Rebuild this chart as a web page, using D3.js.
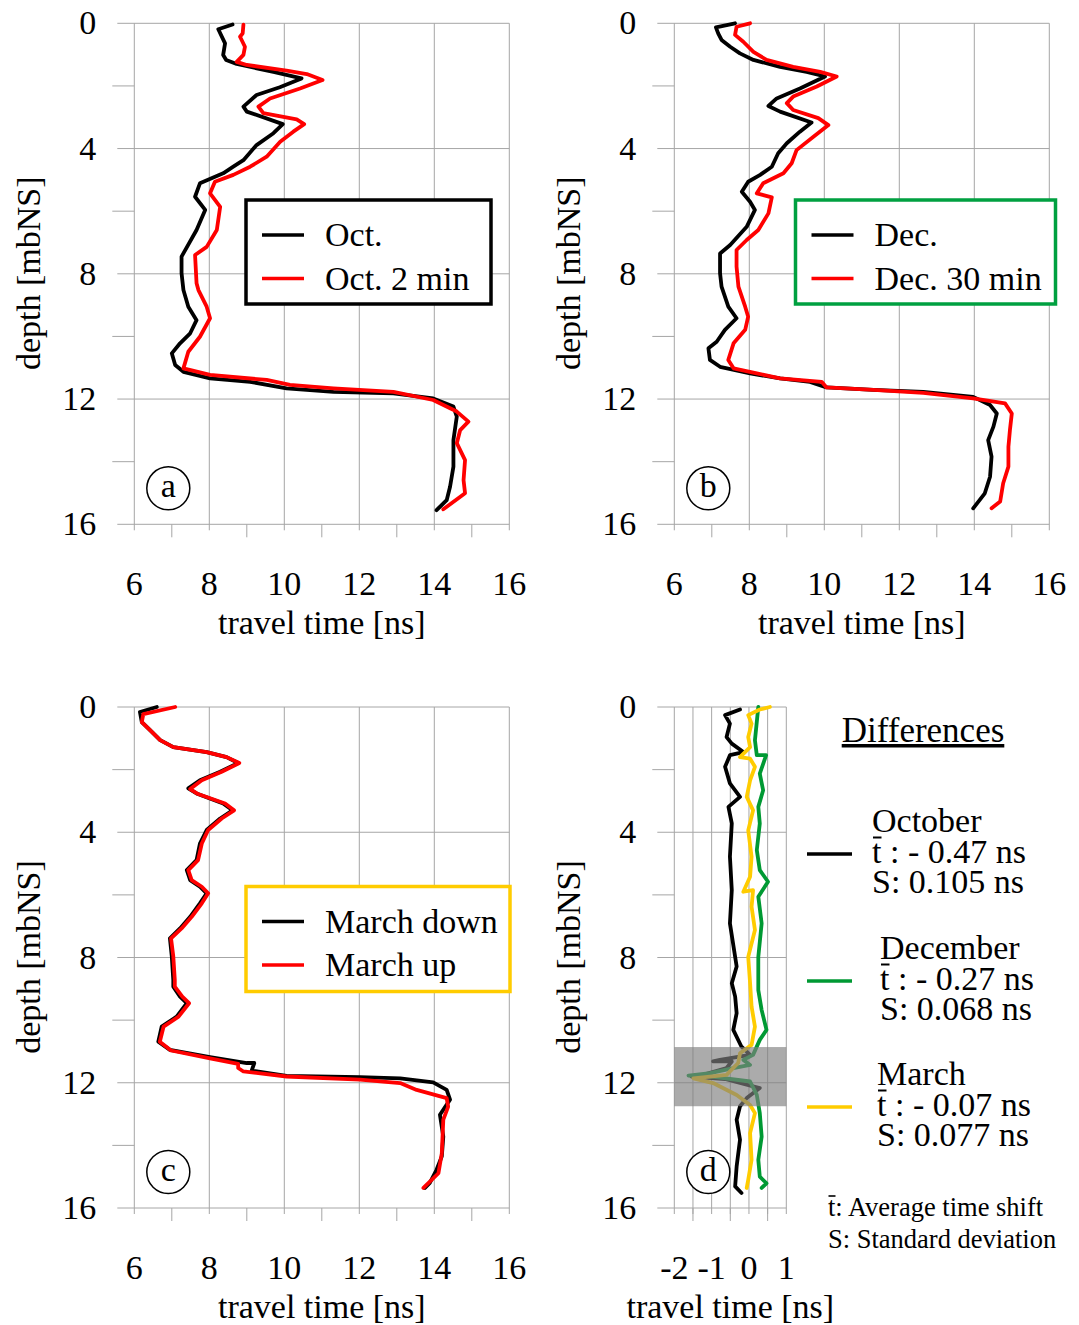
<!DOCTYPE html>
<html>
<head>
<meta charset="utf-8">
<script src="https://cdn.jsdelivr.net/npm/d3@7"></script>
<style>
  body { margin: 0; background: #fff; }
  text { font-family: "Liberation Serif", "Times New Roman", serif; fill: #000; }
</style>
</head>
<body>
<svg id="chart" width="1079" height="1325"></svg>
<script>
// data: [travel time ns, depth mbNS]
const octSeries = [[8.62,0.04],[8.24,0.19],[8.42,0.64],[8.37,1.01],[8.45,1.17],[8.73,1.30],[9.71,1.55],[10.46,1.76],[9.88,2.04],[9.26,2.29],[8.91,2.66],[9.0,2.82],[9.96,3.22],[9.71,3.51],[9.26,3.89],[8.91,4.37],[8.64,4.58],[8.37,4.79],[7.75,5.11],[7.62,5.54],[7.89,5.96],[7.66,6.60],[7.26,7.45],[7.26,7.98],[7.31,8.52],[7.44,9.05],[7.66,9.48],[7.49,9.90],[7.22,10.22],[7.0,10.54],[7.09,10.91],[7.31,11.13],[8.02,11.34],[9.09,11.45],[10.06,11.66],[11.31,11.77],[12.91,11.82],[13.97,11.98],[14.51,12.24],[14.60,12.56],[14.51,13.31],[14.51,14.16],[14.42,14.80],[14.33,15.23],[14.06,15.55]];
const oct2Series = [[8.91,0.04],[8.89,0.32],[8.82,0.43],[8.95,0.75],[8.91,1.01],[8.73,1.23],[9.0,1.33],[10.06,1.51],[10.60,1.62],[11.02,1.81],[10.42,2.08],[9.62,2.40],[9.31,2.66],[9.44,2.87],[10.33,3.07],[10.53,3.22],[10.24,3.46],[9.89,3.78],[9.53,4.26],[9.09,4.58],[8.64,4.84],[8.15,5.06],[8.02,5.43],[8.29,5.86],[8.20,6.60],[7.93,7.14],[7.62,7.40],[7.66,8.30],[7.71,8.52],[7.93,9.05],[8.02,9.42],[7.75,10.01],[7.44,10.49],[7.31,11.02],[8.02,11.23],[9.53,11.39],[10.15,11.55],[11.31,11.66],[12.91,11.77],[13.97,12.03],[14.60,12.40],[14.91,12.72],[14.69,12.99],[14.60,13.41],[14.82,13.95],[14.78,14.59],[14.82,15.01],[14.24,15.52]];
const decSeries = [[7.62,0],[7.11,0.13],[7.17,0.32],[7.26,0.53],[7.49,0.75],[7.75,0.96],[8.11,1.17],[8.82,1.39],[9.53,1.55],[10.02,1.70],[9.35,2.08],[8.73,2.40],[8.51,2.64],[8.82,2.82],[9.66,3.17],[9.35,3.46],[9.0,3.83],[8.77,4.15],[8.60,4.58],[8.29,4.84],[7.97,5.06],[7.80,5.38],[8.02,5.70],[8.15,5.96],[7.93,6.50],[7.49,7.08],[7.22,7.35],[7.22,7.98],[7.26,8.41],[7.44,9.05],[7.66,9.42],[7.35,9.79],[7.13,10.17],[6.91,10.38],[6.95,10.75],[7.22,10.97],[8.02,11.18],[8.82,11.34],[9.62,11.45],[10.06,11.63],[11.31,11.71],[12.64,11.77],[13.97,11.93],[14.42,12.19],[14.60,12.46],[14.51,12.88],[14.37,13.31],[14.46,13.84],[14.42,14.48],[14.28,15.01],[13.97,15.49]];
const dec30Series = [[8.02,0],[7.66,0.11],[7.62,0.37],[7.84,0.59],[8.11,0.91],[8.46,1.17],[9.17,1.39],[9.89,1.55],[10.33,1.70],[9.80,2.02],[9.17,2.34],[9.0,2.55],[9.17,2.77],[9.84,3.03],[10.11,3.25],[9.71,3.62],[9.26,4.05],[9.13,4.47],[8.91,4.79],[8.37,5.11],[8.20,5.43],[8.60,5.56],[8.51,6.07],[8.24,6.60],[7.93,6.92],[7.66,7.24],[7.66,7.77],[7.71,8.41],[7.89,9.05],[7.97,9.37],[7.89,9.79],[7.58,10.22],[7.44,10.75],[7.58,11.02],[8.20,11.18],[8.82,11.34],[9.93,11.45],[10.06,11.63],[11.31,11.71],[12.64,11.80],[13.97,11.98],[14.82,12.14],[15.0,12.46],[14.95,12.99],[14.91,13.52],[14.91,14.16],[14.77,14.69],[14.69,15.27],[14.46,15.49]];
const marDownSeries = [[6.60,0],[6.15,0.16],[6.20,0.48],[6.42,0.74],[6.69,1.06],[7.04,1.28],[7.93,1.44],[8.46,1.60],[8.77,1.79],[8.29,2.07],[7.75,2.34],[7.44,2.60],[7.66,2.76],[8.37,3.08],[8.62,3.30],[8.29,3.56],[7.93,3.93],[7.75,4.36],[7.66,4.89],[7.40,5.21],[7.49,5.53],[7.75,5.74],[7.93,5.95],[7.75,6.27],[7.49,6.70],[7.22,7.07],[6.95,7.39],[7.0,7.97],[7.04,8.72],[7.04,8.93],[7.22,9.25],[7.40,9.46],[7.13,9.89],[6.73,10.21],[6.64,10.69],[6.95,10.95],[8.02,11.18],[9.0,11.37],[9.20,11.37],[9.13,11.61],[10.06,11.78],[12.02,11.82],[13.09,11.86],[13.97,11.99],[14.33,12.23],[14.42,12.54],[14.15,13.02],[14.24,13.72],[14.20,14.35],[14.06,14.78],[13.88,15.20],[13.75,15.36]];
const marUpSeries = [[7.09,0],[6.24,0.23],[6.20,0.48],[6.42,0.74],[6.69,1.06],[7.04,1.28],[7.93,1.44],[8.46,1.60],[8.80,1.79],[8.33,2.07],[7.80,2.34],[7.49,2.62],[7.70,2.78],[8.42,3.08],[8.66,3.30],[8.33,3.56],[7.97,3.93],[7.80,4.36],[7.70,4.89],[7.44,5.21],[7.53,5.53],[7.80,5.74],[7.97,5.95],[7.80,6.27],[7.53,6.70],[7.26,7.07],[6.98,7.39],[7.04,7.97],[7.08,8.72],[7.08,8.93],[7.28,9.25],[7.46,9.46],[7.18,9.89],[6.78,10.21],[6.68,10.69],[6.98,10.97],[8.02,11.22],[8.77,11.40],[8.77,11.53],[8.91,11.64],[10.06,11.80],[12.02,11.90],[13.09,12.01],[13.53,12.23],[14.33,12.49],[14.37,12.76],[14.24,13.18],[14.20,14.25],[14.11,14.89],[13.71,15.36]];
const diffOctSeries = [[-0.24,0.08],[-0.64,0.26],[-0.51,0.53],[-0.60,0.96],[-0.46,1.17],[-0.15,1.44],[-0.51,1.54],[-0.64,1.91],[-0.51,2.44],[-0.24,2.87],[-0.55,3.19],[-0.46,3.72],[-0.51,4.78],[-0.46,5.85],[-0.51,6.91],[-0.33,8.29],[-0.46,8.82],[-0.37,9.25],[-0.33,9.78],[-0.42,10.31],[-0.20,10.85],[0.03,11.11],[-0.78,11.27],[-0.96,11.32],[-0.46,11.32],[-0.60,11.53],[-1.23,11.75],[-1.54,11.80],[-0.64,11.88],[0.29,12.17],[-0.06,12.49],[-0.24,12.75],[-0.33,13.18],[-0.24,13.82],[-0.33,14.67],[-0.37,15.31],[-0.20,15.52]];
const diffDecSeries = [[0.25,0],[0.16,1.06],[0.21,1.54],[0.46,1.54],[0.29,2.13],[0.38,2.66],[0.25,3.19],[0.29,3.72],[0.21,4.57],[0.29,5.21],[0.51,5.58],[0.25,6.06],[0.34,6.91],[0.25,7.98],[0.25,9.04],[0.34,9.68],[0.47,10.31],[0.29,10.63],[0.11,11.11],[-0.15,11.27],[0.03,11.43],[-0.42,11.53],[-1.04,11.69],[-1.62,11.77],[-1.04,11.80],[0.03,11.96],[0.21,12.39],[0.29,12.97],[0.34,13.72],[0.25,14.46],[0.29,15.0],[0.47,15.21],[0.34,15.36]];
const diffMarSeries = [[0.56,0],[0.29,0.08],[-0.02,0.26],[0.07,0.53],[-0.02,0.96],[0.03,1.28],[-0.24,1.60],[0.03,1.65],[0.16,1.91],[0.03,2.34],[-0.06,2.87],[0.11,3.30],[-0.02,3.94],[0.07,4.78],[0.03,5.42],[-0.15,5.90],[0.11,5.85],[0.07,6.38],[0.16,7.12],[-0.02,7.98],[0.03,8.82],[0.07,9.57],[0.16,10.21],[0.07,10.79],[-0.24,11.06],[-0.29,11.37],[-0.60,11.75],[-1.49,11.86],[-0.96,12.01],[-0.33,12.39],[0.03,12.71],[0.16,12.97],[0.03,13.61],[0.07,14.46],[-0.02,15.10],[-0.06,15.36]];

const depthTicks = [0, 4, 8, 12, 16];
const depthMinor = [2, 6, 10, 14];
const timeTicks = [6, 8, 10, 12, 14, 16];
const timeMinor = [7, 9, 11, 13, 15];
const diffTicks = [-2, -1, 0, 1];
const diffGrid = [-2, -1.5, -1, -0.5, 0, 0.5, 1];
const diffMinor = [-1.5, -0.5, 0.5];
const shadedDepth = [10.86, 12.75];

const svg = d3.select("#chart");
const gridColor = "#a6a6a6";

function drawPanel(p) {
  const x = d3.scaleLinear().domain(p.xDomain).range([p.left, p.left + p.width]);
  const y = d3.scaleLinear().domain([0, 16]).range([p.top, p.top + 501]);
  const g = svg.append("g");

  // vertical grid + ticks below
  g.selectAll(".vg").data(p.xGrid).join("line")
    .attr("x1", d => x(d)).attr("x2", d => x(d))
    .attr("y1", p.top).attr("y2", p.top + 501 + 6)
    .attr("stroke", gridColor).attr("stroke-width", 1);
  g.selectAll(".vm").data(p.xMinor).join("line")
    .attr("x1", d => x(d)).attr("x2", d => x(d))
    .attr("y1", p.top + 501).attr("y2", p.top + 501 + 13)
    .attr("stroke", gridColor).attr("stroke-width", 1);
  // horizontal grid + ticks left
  g.selectAll(".hg").data(depthTicks).join("line")
    .attr("x1", p.left - 17).attr("x2", p.left + p.width)
    .attr("y1", d => y(d)).attr("y2", d => y(d))
    .attr("stroke", gridColor).attr("stroke-width", 1);
  g.selectAll(".hm").data(depthMinor).join("line")
    .attr("x1", p.left - 22).attr("x2", p.left)
    .attr("y1", d => y(d)).attr("y2", d => y(d))
    .attr("stroke", gridColor).attr("stroke-width", 1);

  // tick labels
  g.selectAll(".yl").data(depthTicks).join("text")
    .attr("x", p.left - 38).attr("y", d => y(d) + 11)
    .attr("text-anchor", "end").attr("font-size", 34).text(d => d);
  g.selectAll(".xl").data(p.xTicks).join("text")
    .attr("x", d => x(d)).attr("y", p.top + 572)
    .attr("text-anchor", "middle").attr("font-size", 34).text(d => d);

  // axis titles
  g.append("text").attr("x", p.left + p.width / 2).attr("y", p.top + 611)
    .attr("text-anchor", "middle").attr("font-size", 34).text("travel time [ns]");
  g.append("text")
    .attr("transform", `translate(${p.left - 94}, ${p.top + 250}) rotate(-90)`)
    .attr("text-anchor", "middle").attr("font-size", 34).text("depth [mbNS]");

  // lines
  const line = d3.line().x(d => x(d[0])).y(d => y(d[1]));
  p.series.forEach(s => {
    g.append("path").datum(s.data).attr("d", line)
      .attr("fill", "none").attr("stroke", s.color).attr("stroke-width", 3.8)
      .attr("stroke-linejoin", "round").attr("stroke-linecap", "round");
  });

  if (p.shade) {
    g.append("rect").attr("x", p.left).attr("width", p.width)
      .attr("y", y(p.shade[0])).attr("height", y(p.shade[1]) - y(p.shade[0]))
      .attr("fill", "#808080").attr("opacity", 0.66);
  }

  // panel letter
  g.append("circle").attr("cx", p.left + 34).attr("cy", y(0) + 465).attr("r", 21.5)
    .attr("fill", "#fff").attr("stroke", "#000").attr("stroke-width", 1.5);
  g.append("text").attr("x", p.left + 34).attr("y", y(0) + 474)
    .attr("text-anchor", "middle").attr("font-size", 34).text(p.letter);

  // legend box
  if (p.legend) {
    const L = p.legend;
    g.append("rect").attr("x", L.x).attr("y", L.y).attr("width", L.w).attr("height", L.h)
      .attr("fill", "#fff").attr("stroke", L.border).attr("stroke-width", 3.5);
    L.items.forEach((it, i) => {
      const cy = L.y + 35 + i * 43.5;
      g.append("line").attr("x1", L.x + 16).attr("x2", L.x + 58)
        .attr("y1", cy).attr("y2", cy)
        .attr("stroke", it.color).attr("stroke-width", 3.5);
    });
    g.append("text").attr("font-size", 34)
      .selectAll("tspan").data(L.items).join("tspan")
      .attr("x", L.x + 79).attr("y", (d, i) => L.y + 46 + i * 43.5)
      .text(d => d.label);
  }
}

drawPanel({
  left: 134.3, top: 23.3, width: 375, xDomain: [6, 16],
  xGrid: timeTicks, xMinor: timeMinor, xTicks: timeTicks, letter: "a",
  series: [{data: octSeries, color: "#000"}, {data: oct2Series, color: "#ff0000"}],
  legend: {x: 246, y: 200, w: 245, h: 104, border: "#000",
    items: [{label: "Oct.", color: "#000"}, {label: "Oct. 2 min", color: "#ff0000"}]}
});
drawPanel({
  left: 674.3, top: 23.3, width: 375, xDomain: [6, 16],
  xGrid: timeTicks, xMinor: timeMinor, xTicks: timeTicks, letter: "b",
  series: [{data: decSeries, color: "#000"}, {data: dec30Series, color: "#ff0000"}],
  legend: {x: 795.5, y: 200, w: 260, h: 104, border: "#00a040",
    items: [{label: "Dec.", color: "#000"}, {label: "Dec. 30 min", color: "#ff0000"}]}
});
drawPanel({
  left: 134.3, top: 707, width: 375, xDomain: [6, 16],
  xGrid: timeTicks, xMinor: timeMinor, xTicks: timeTicks, letter: "c",
  series: [{data: marDownSeries, color: "#000"}, {data: marUpSeries, color: "#ff0000"}],
  legend: {x: 246, y: 886.5, w: 264, h: 105, border: "#ffcc00",
    items: [{label: "March down", color: "#000"}, {label: "March up", color: "#ff0000"}]}
});
drawPanel({
  left: 674.3, top: 707, width: 112, xDomain: [-2, 1],
  xGrid: diffGrid, xMinor: diffMinor, xTicks: diffTicks, letter: "d",
  series: [{data: diffOctSeries, color: "#000"}, {data: diffDecSeries, color: "#009933"},
           {data: diffMarSeries, color: "#ffcc00"}],
  shade: shadedDepth
});

// differences legend
const diffLegend = [
  {name: "October", mean: "t : - 0.47 ns", sd: "S: 0.105 ns", color: "#000", x: 872, y: 832},
  {name: "December", mean: "t : - 0.27 ns", sd: "S: 0.068 ns", color: "#009933", x: 880, y: 959},
  {name: "March", mean: "t : - 0.07 ns", sd: "S: 0.077 ns", color: "#ffcc00", x: 877, y: 1085}
];
svg.append("text").attr("x", 923).attr("y", 742).attr("text-anchor", "middle")
  .attr("font-size", 35).style("text-decoration", "underline").text("Differences");
diffLegend.forEach(d => {
  svg.append("line").attr("x1", 807).attr("x2", 852)
    .attr("y1", d.y + 22).attr("y2", d.y + 22)
    .attr("stroke", d.color).attr("stroke-width", 3.5);
  svg.append("text").attr("font-size", 34)
    .selectAll("tspan").data([d.name, d.mean, d.sd]).join("tspan")
    .attr("x", d.x).attr("y", (s, i) => d.y + i * 30.5).text(s => s);
  // bar over the t (mean)
  svg.append("line").attr("x1", d.x + 1).attr("x2", d.x + 9.5)
    .attr("y1", d.y + 30.5 - 25).attr("y2", d.y + 30.5 - 25)
    .attr("stroke", "#000").attr("stroke-width", 2);
});
svg.append("text").attr("font-size", 26.5)
  .selectAll("tspan").data(["t: Average time shift", "S: Standard deviation"]).join("tspan")
  .attr("x", 828).attr("y", (s, i) => 1216 + i * 32).text(s => s);
svg.append("line").attr("x1", 828.5).attr("x2", 835.5)
  .attr("y1", 1216 - 20).attr("y2", 1216 - 20)
  .attr("stroke", "#000").attr("stroke-width", 1.6);
</script>
</body>
</html>
